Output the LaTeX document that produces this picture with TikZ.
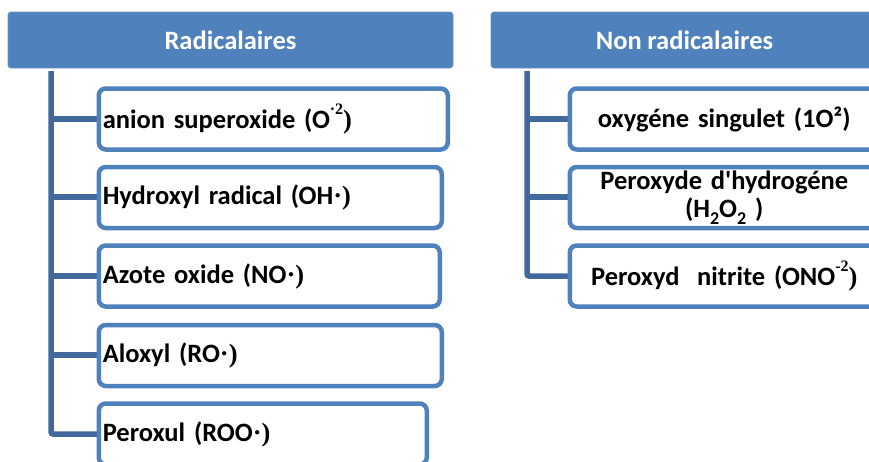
\documentclass[tikz,border=0pt]{standalone}
\usepackage{fontspec}
\setmainfont{Carlito}[Ligatures=TeXOff]
\newfontfamily\serf{Liberation Serif}
\definecolor{boxblue}{HTML}{4F81BD}
\definecolor{connblue}{HTML}{41699C}
\newcommand\mysup[1]{\raisebox{0.5em}{\fontsize{16}{16}\selectfont #1}}
\newcommand\mysub[1]{\raisebox{-0.28em}{\fontsize{18}{18}\selectfont #1}}
\newcommand\bodyfont{\bfseries\fontsize{26.5}{31}\selectfont\spaceskip=0.21em\relax}
\tikzset{
  x=1pt, y=-1pt,
  hdr/.style={fill=boxblue, draw=boxblue!85!white, line width=0.8pt, rounded corners=3pt,
    text=white, font=\bodyfont, minimum height=56pt, inner sep=0pt},
  lbox/.style={draw=boxblue, fill=white, line width=4.5pt, rounded corners=7pt,
    minimum height=61pt, inner xsep=4pt, inner ysep=0pt, anchor=west, align=left, font=\bodyfont},
  rbox/.style={draw=boxblue, fill=white, line width=4.5pt, rounded corners=7pt,
    minimum height=61pt, inner xsep=4pt, inner ysep=0pt, anchor=west, align=center,
    text width=301pt, font=\bodyfont},
  conn/.style={draw=connblue, line width=5.5pt, rounded corners=2pt}
}
\begin{document}
\begin{tikzpicture}
\useasboundingbox (0,0) rectangle (869,461);
% headers
\node[hdr, minimum width=445pt] (hL) at (230.5,40) {Radicalaires};
\node[hdr, minimum width=387pt] (hR) at (684.5,40) {Non radicalaires};
% trunk tops
\coordinate (tL) at (51,71);
\coordinate (tR) at (527,71);
% connectors (drawn first so boxes cover the ends)
\draw[conn] (tL) |- (97,434) coordinate (e5);
\foreach \yy in {119,197,276,355} \draw[conn] (51,\yy) -- (97,\yy);
\draw[conn] (tR) |- (569,276) coordinate (r3e);
\foreach \yy in {119,197} \draw[conn] (527,\yy) -- (569,\yy);
% left boxes
\node[lbox, text width=341pt] (l1) at (96.5,119) {anion superoxide (O{\serf\mysup{·2})}};
\node[lbox, text width=335pt] (l2) at (96.5,197.5) {Hydroxyl radical (OH{\serf ·)}};
\node[lbox, text width=333pt] (l3) at (96.5,276) {Azote oxide (NO{\serf ·)}};
\node[lbox, text width=335pt] (l4) at (96.5,355.5) {Aloxyl (RO{\serf ·)}};
\node[lbox, text width=320pt] (l5) at (96.5,434) {Peroxul (ROO{\serf ·)}};
% right boxes
\node[rbox] (r1) at (567.5,119) {oxygéne singulet (1O²)};
\node[rbox, font=\bodyfont\fontsize{26.5}{29}\selectfont] (r2) at (567.5,197.5) {Peroxyde d'hydrogéne\\[-1pt](H\mysub{2}O\mysub{2} )};
\node[rbox] (r3) at (567.5,276) {Peroxyd\ \ nitrite (ONO{\serf\mysup{-2})}};
\end{tikzpicture}
\end{document}
